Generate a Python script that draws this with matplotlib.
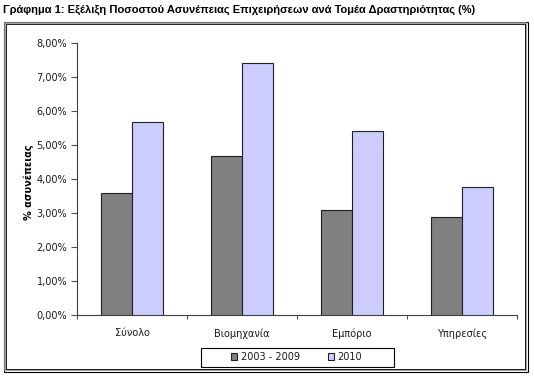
import matplotlib
matplotlib.use("Agg")
import matplotlib.pyplot as plt
from matplotlib.patches import Rectangle
from matplotlib.ticker import FixedLocator, FuncFormatter
import numpy as np

title = "Γράφημα 1: Εξέλιξη Ποσοστού Ασυνέπειας Επιχειρήσεων ανά Τομέα Δραστηριότητας (%)"
categories = ["Σύνολο", "Βιομηχανία", "Εμπόριο", "Υπηρεσίες"]
series_names = ["2003 - 2009", "2010"]
values_2003_2009 = [3.57, 4.67, 3.08, 2.86]
values_2010 = [5.66, 7.42, 5.42, 3.76]
y_ticks = [0, 1, 2, 3, 4, 5, 6, 7, 8]
ylabel = "% ασυνέπειας"

W, H = 534, 377
fig = plt.figure(figsize=(W / 100, H / 100), dpi=100)
fig.patch.set_facecolor("white")


def frame_rect(x0, y0, x1, y1, color, lw):
    fig.patches.append(Rectangle((x0 / W, 1 - y1 / H), (x1 - x0) / W, (y1 - y0) / H,
                                 transform=fig.transFigure, fill=False,
                                 edgecolor=color, linewidth=lw))


frame_rect(3.5, 21.5, 527.5, 371.5, "black", 0.8)
frame_rect(4.8, 22.8, 526.2, 370.2, "#909090", 1.2)
frame_rect(6.2, 24.2, 524.8, 368.8, "black", 0.6)

# title, sized to fit the reference width
t = fig.text(3 / W, 1 - 10 / H, title, fontsize=8.3, fontweight="bold",
             ha="left", va="center", color="black", family="Liberation Sans")
r = fig.canvas.get_renderer()
wpx = t.get_window_extent(renderer=r).width
t.set_fontsize(8.3 * 476 / wpx)

ax = fig.add_axes([77 / W, (377 - 314.5) / H, 440 / W, (314.5 - 43) / H])
x = np.arange(len(categories))
bw = 0.28
ax.bar(x - bw / 2, values_2003_2009, width=bw, color="#808080", edgecolor="#202020",
       linewidth=0.8, label=series_names[0], zorder=3)
ax.bar(x + bw / 2, values_2010, width=bw, color="#CCCCFF", edgecolor="#202020",
       linewidth=0.8, label=series_names[1], zorder=3)

ax.set_xlim(-0.5, len(categories) - 0.5)
ax.set_ylim(0, 8)
ax.yaxis.set_major_locator(FixedLocator(y_ticks))
ax.yaxis.set_major_formatter(FuncFormatter(lambda v, p: f"{v:.2f}".replace(".", ",") + "%"))
ax.set_xticks(x)
ax.set_xticklabels(categories)
ax.xaxis.set_minor_locator(FixedLocator(np.arange(len(categories) + 1) - 0.5))
ax.tick_params(axis="x", which="major", length=0, pad=10, labelsize=7, colors="#1a1a1a")
ax.tick_params(axis="x", which="minor", length=3, width=0.8, direction="out", color="#505050")
ax.tick_params(axis="y", length=4, width=0.8, direction="out", color="#505050",
               labelsize=7, labelcolor="#1a1a1a", pad=3)
for s in ["top", "right"]:
    ax.spines[s].set_visible(False)
for s in ["left", "bottom"]:
    ax.spines[s].set_color("#404040")
    ax.spines[s].set_linewidth(0.8)

fig.text(29 / W, 1 - 182 / H, ylabel, rotation=90, fontsize=7, fontweight="bold",
         ha="center", va="center", color="black")

# legend box
frame_rect(200.5, 347.5, 393.5, 366.5, "black", 0.8)
leg = fig.legend(loc="center left", bbox_to_anchor=(231 / W, 1 - 357 / H), ncol=2,
                 fontsize=7, frameon=False,
                 handlelength=0.6, handleheight=0.6, handletextpad=0.4,
                 columnspacing=2.9, borderpad=0.0, borderaxespad=0.0)
for tx in leg.get_texts():
    tx.set_color("#1a1a1a")

fig.savefig("out.png", dpi=100, facecolor="white")
